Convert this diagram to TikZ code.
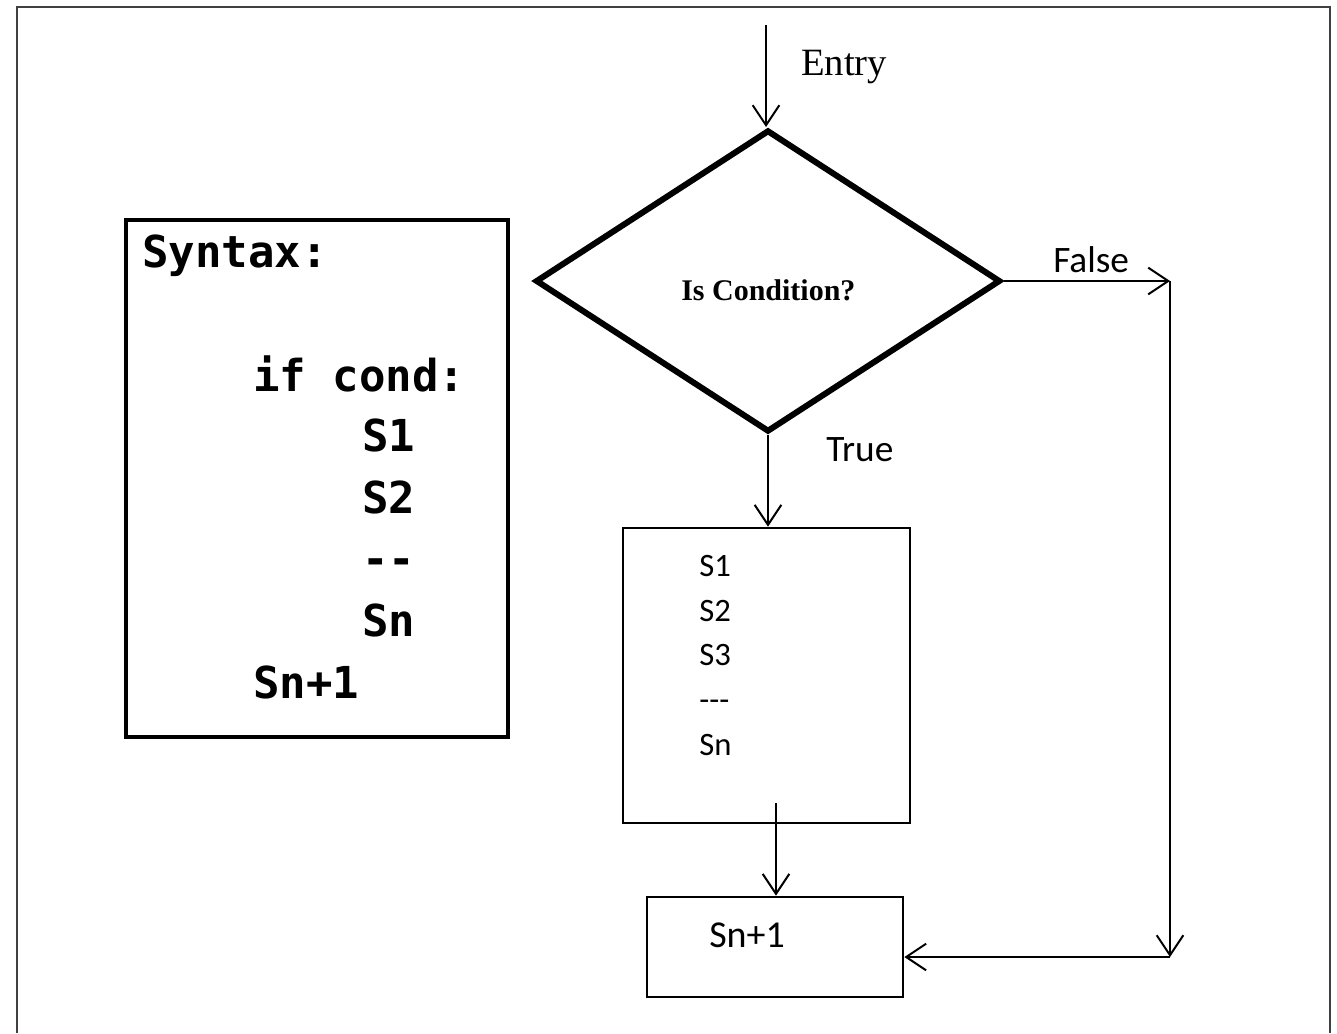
\documentclass[tikz,border=0pt]{standalone}
\usepackage{fontspec}
\usetikzlibrary{shapes.geometric,arrows.meta}
\newfontfamily\codefont{DejaVu Sans Mono}
\newfontfamily\calfont{Carlito}
\newfontfamily\serffont{Liberation Serif}
\tikzset{
  arr/.style={line width=1.5pt,-{Straight Barb[length=15pt,width=20pt,line width=1.5pt]}},
  codeline/.style={anchor=base west,inner sep=0pt,font=\codefont\bfseries\fontsize{33pt}{33pt}\selectfont},
  bodyline/.style={anchor=base west,inner sep=0pt,font=\calfont\fontsize{24.5pt}{24.5pt}\selectfont},
  flowlabel/.style={anchor=base west,inner sep=0pt,font=\calfont\fontsize{28pt}{28pt}\selectfont},
  stepbox/.style={draw,rectangle,inner sep=0pt,line width=2pt},
}
\begin{document}
\begin{tikzpicture}[x=0.75pt,y=-0.75pt]
\useasboundingbox (0,0) rectangle (1337,1033);
\fill[white] (0,0) rectangle (1337,1033);

% outer frame (open at the bottom)
\draw[line width=1.8pt,black!75] (17,1033) -- (17,7) -- (1330,7) -- (1330,1033);

% syntax panel
\node[draw,rectangle,inner sep=0pt,line width=3pt,minimum width=286.5pt,minimum height=387.75pt] (syntax) at (317,478.5) {};
\node[codeline] (synhead) at (142,267) {Syntax:};
\node[codeline] (synif)   at (253,391) {if cond:};
\node[codeline] (syns1)   at (362,451) {S1};
\node[codeline] (syns2)   at (362,513) {S2};
\node[codeline] (syndots) at (362,574) {{-}{-}};
\node[codeline] (synsn)   at (362,636) {Sn};
\node[codeline] (synnext) at (253,698) {Sn+1};

% decision
\node[draw,diamond,inner sep=0pt,line width=4.5pt,minimum width=348.75pt,minimum height=226.5pt] (cond) at (768,281) {};
\node[anchor=base west,inner sep=0pt,font=\serffont\bfseries\fontsize{22.5pt}{22.5pt}\selectfont] (condtext) at (681,300) {Is Condition?};

% statement block
\node[stepbox,minimum width=215.25pt,minimum height=221.25pt] (body) at (766.5,675.5) {};
\node[bodyline] (b1) at (699,576) {S1};
\node[bodyline] (b2) at (699,621) {S2};
\node[bodyline] (b3) at (699,665) {S3};
\node[bodyline] (bd) at (699,710) {{-}{-}{-}};
\node[bodyline] (bn) at (699,755) {Sn};

% following statement
\node[stepbox,minimum width=192pt,minimum height=75pt] (next) at (775,947) {};
\node[anchor=base west,inner sep=0pt,font=\calfont\fontsize{28.5pt}{28.5pt}\selectfont] (nexttext) at (709,947) {Sn+1};

% connectors
\coordinate (entry) at (766,25);
\draw[arr] (entry) -- (entry |- cond.north);
\node[anchor=base west,inner sep=0pt,font=\serffont\fontsize{29pt}{29pt}\selectfont] (entrylbl) at (801,75) {Entry};

\coordinate (fcorner) at (1170,281);
\coordinate (bcorner) at (1170,957);
\draw[arr] (cond.east) -- (fcorner);
\draw[arr] (fcorner) -- (bcorner);
\draw[arr] (bcorner) -- (bcorner -| next.east);
\node[flowlabel] (falselbl) at (1053,272) {False};

\draw[arr] (cond.south) -- (cond.south |- body.north);
\node[flowlabel] (truelbl) at (826,461) {True};

\coordinate (bodyout) at (776,803);
\draw[arr] (bodyout) -- (bodyout |- next.north);
\end{tikzpicture}
\end{document}
